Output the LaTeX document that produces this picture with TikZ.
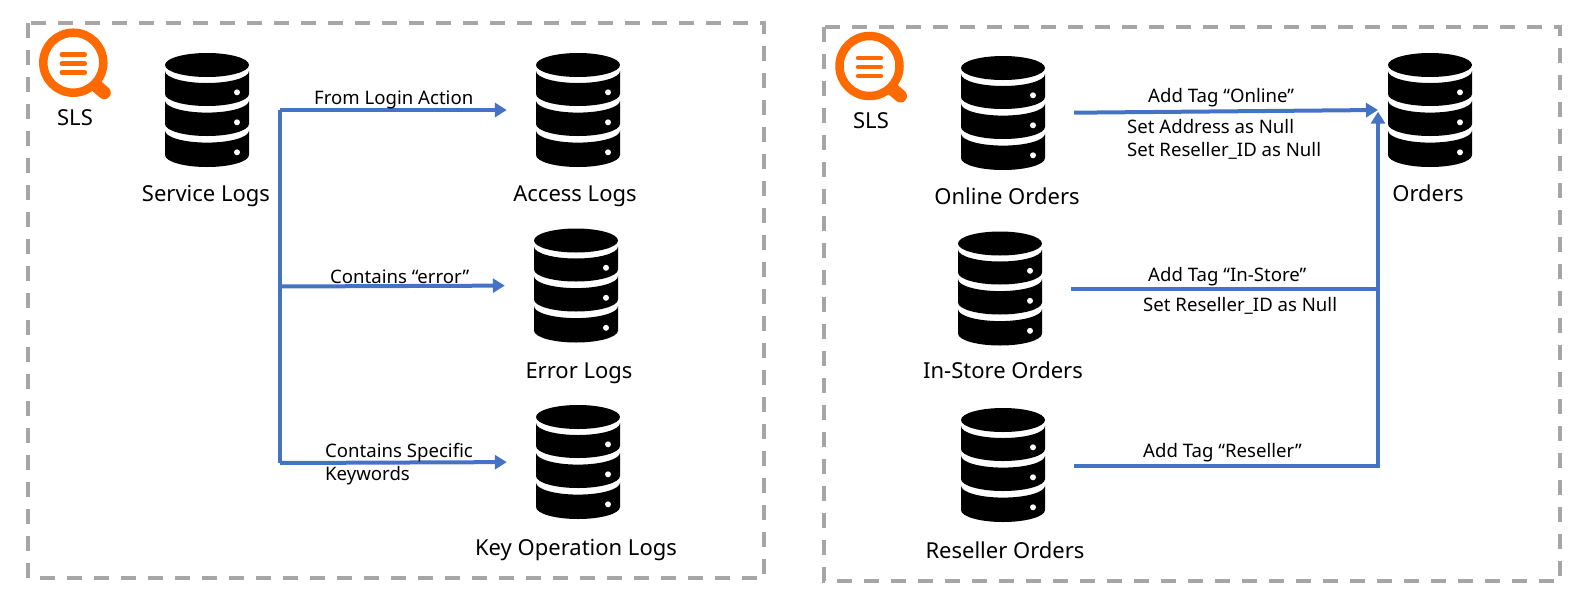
\documentclass[tikz,border=0pt]{standalone}
\usepackage{fontspec}
\setmainfont{Noto Sans}
\usetikzlibrary{arrows.meta}
\definecolor{linkblue}{HTML}{4472C4}
\definecolor{boxgray}{HTML}{A6A6A6}
\definecolor{slsorange}{HTML}{FF6A00}
\tikzset{
  bigtext/.style={inner sep=0pt, text height=15pt, text depth=4pt, font=\fontsize{22}{26}\selectfont},
  smalltext/.style={inner sep=0pt, anchor=west, align=left, font=\fontsize{18.6}{23}\selectfont},
  groupbox/.style={draw=boxgray, line width=4pt, dash pattern=on 15pt off 12pt},
  link/.style={draw=linkblue, line width=4pt},
  linkarrow/.style={link, -{Triangle[length=12pt,width=14pt]}, shorten >=29pt},
  dbbox/.style={minimum width=84pt, minimum height=114pt, inner sep=0pt},
  dbicon/.pic={
    \fill (0,-45) ellipse [x radius=42, y radius=12];
    \fill (-42,-39) arc [start angle=180, end angle=0, x radius=42, y radius=12] -- (42,-16) arc [start angle=0, end angle=180, x radius=42, y radius=12] -- cycle;
    \fill (-42,-9.4) arc [start angle=180, end angle=0, x radius=42, y radius=12] -- (42,14) arc [start angle=0, end angle=180, x radius=42, y radius=12] -- cycle;
    \fill (-42,20.6) arc [start angle=180, end angle=0, x radius=42, y radius=12] -- (42,45) arc [start angle=0, end angle=180, x radius=42, y radius=12] -- cycle;
    \foreach \dy in {-17.7,12.3,42.3} \fill[white] (30,\dy) circle [radius=3];
  },
  slslogo/.pic={
    \draw[slsorange, line width=8.5pt] (0,0) circle [radius=30];
    \draw[slsorange, line width=13pt, line cap=round] (24,24) -- (31,30);
    \foreach \dy in {-8,1,10} \draw[slsorange, line width=4.5pt, line cap=round] (-11.5,\dy) -- (11.5,\dy);
  },
}

\begin{document}
\begin{tikzpicture}[x=1pt, y=-1pt]
\useasboundingbox (0,0) rectangle (1593,603);

% dashed frames
\draw[groupbox] (27.5,23) rectangle (764,578);
\draw[groupbox] (824,26.5) rectangle (1560,581);

% logos
\pic at (73.3,62.7) {slslogo};
\pic at (869.5,66) {slslogo};
\node (slsA) at (75,119.5) [bigtext] {SLS};
\node (slsB) at (871,122.5) [bigtext] {SLS};

% database icons
\foreach \name/\x/\y in {svc/207/110, access/578/110, error/576/285.5, key/578/462,
    online/1003/113, instore/1000/288.5, reseller/1003/465, orders/1430/110} {
  \node (\name) at (\x,\y) [dbbox] {};
  \pic at (\name) {dbicon};
}

\node (svcT) at (206,195.5) [bigtext] {Service Logs};
\node (accessT) at (575,195.5) [bigtext] {Access Logs};
\node (errorT) at (579,372.5) [bigtext] {Error Logs};
\node (keyT) at (576,549.5) [bigtext] {Key Operation Logs};
\node (onlineT) at (1007,198.5) [bigtext] {Online Orders};
\node (instoreT) at (1003,372.5) [bigtext] {In-Store Orders};
\node (resellerT) at (1005,552.5) [bigtext] {Reseller Orders};
\node (ordersT) at (1428,195.5) [bigtext] {Orders};

% left side links
\coordinate (top) at (280,110);
\coordinate (mid) at (280,286.5);
\coordinate (low) at (280,463);
\draw[link] (top) -- (low);
\draw[linkarrow] (top) -- (access.west);
\draw[linkarrow] (mid) -- (error.west);
\draw[linkarrow] (low) -- (key.west);

\node (fromT) at (314,99.5) [smalltext] {From Login Action};
\node (errT) at (330,277) [smalltext] {Contains “error”};
\node (kwT) at (325,464) [smalltext] {Contains Specific\\Keywords};

% right side links
\coordinate (onA) at (1074,112.7);
\coordinate (onB) at (1378,110);
\coordinate (stA) at (1071,288.5);
\coordinate (stB) at (1378,288.5);
\coordinate (reA) at (1074,465.5);
\coordinate (reB) at (1378,465.5);
\coordinate (upB) at (1378,111.7);
\draw[link, -{Triangle[length=12pt,width=14pt]}] (onA) -- (onB);
\draw[link] (stA) -- (stB);
\draw[link, -{Triangle[length=12pt,width=14pt]}] (reA) -- (reB) -- (upB);

\node (tagA) at (1148,97.5) [smalltext] {Add Tag “Online”};
\node (setA) at (1127,139) [smalltext] {Set Address as Null\\Set Reseller\_ID as Null};
\node (tagB) at (1148,276.5) [smalltext] {Add Tag “In-Store”};
\node (setB) at (1143,306) [smalltext] {Set Reseller\_ID as Null};
\node (tagC) at (1143,452.5) [smalltext] {Add Tag “Reseller”};
\end{tikzpicture}
\end{document}
